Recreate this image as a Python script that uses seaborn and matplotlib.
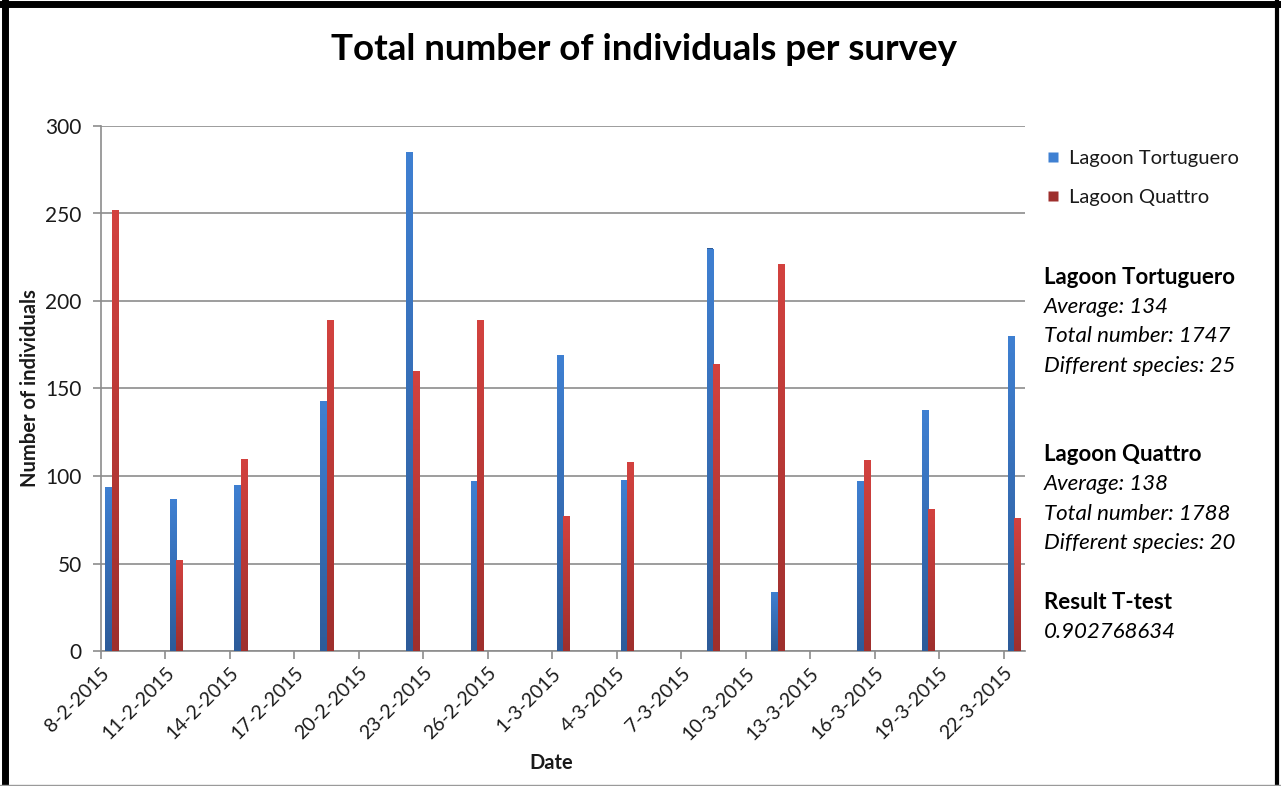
import numpy as np
import pandas as pd
import matplotlib
matplotlib.use("Agg")
import matplotlib.pyplot as plt
import seaborn as sns
from matplotlib.transforms import ScaledTranslation
from matplotlib.lines import Line2D
from matplotlib.colors import LinearSegmentedColormap

# ---- data -------------------------------------------------------------
survey_dates = ["2015-02-08", "2015-02-11", "2015-02-14", "2015-02-18",
                "2015-02-22", "2015-02-25", "2015-03-01", "2015-03-04",
                "2015-03-08", "2015-03-11", "2015-03-15", "2015-03-18",
                "2015-03-22"]
tortuguero = [94, 87, 95, 143, 285, 97, 169, 98, 230, 34, 97, 138, 180]
quattro = [252, 52, 110, 189, 160, 189, 77, 108, 164, 221, 109, 81, 76]
series_names = ["Lagoon Tortuguero", "Lagoon Quattro"]

tick_labels = ["8-2-2015", "11-2-2015", "14-2-2015", "17-2-2015",
               "20-2-2015", "23-2-2015", "26-2-2015", "1-3-2015",
               "4-3-2015", "7-3-2015", "10-3-2015", "13-3-2015",
               "16-3-2015", "19-3-2015", "22-3-2015"]
axis_start = "2015-02-08"
axis_end = "2015-03-23"
y_ticks = [0, 50, 100, 150, 200, 250, 300]

summary_lines = [
    ("Lagoon Tortuguero", "bold"),
    ("Average: 134", "italic"),
    ("Total number: 1747", "italic"),
    ("Different species: 25", "italic"),
    (None, None),
    (None, None),
    ("Lagoon Quattro", "bold"),
    ("Average: 138", "italic"),
    ("Total number: 1788", "italic"),
    ("Different species: 20", "italic"),
    (None, None),
    ("Result T-test", "bold"),
    ("0.902768634", "italic"),
]

# ---- styling ----------------------------------------------------------
sns.set_theme(style="white")
plt.rcParams["font.family"] = ["Lato", "DejaVu Sans"]

blue_dark, blue_light = "#2d5b99", "#3f80d2"
red_dark, red_light = "#9e2f2d", "#d3423f"
grid_col = "#8c8c8c"
text_col = "#1a1a1a"

start = pd.Timestamp(axis_start)
dates = pd.to_datetime(survey_dates)
day_pos = (dates - start).days.to_numpy() + 0.5  # centre of each day slot

df = pd.DataFrame({
    "pos": np.concatenate([day_pos, day_pos]),
    "count": tortuguero + quattro,
    "site": [series_names[0]] * len(tortuguero) + [series_names[1]] * len(quattro),
})

fig = plt.figure(figsize=(12.81, 7.86), dpi=100)
ax = fig.add_axes([101 / 1281, 1 - 651 / 786, (1025 - 101) / 1281, (651 - 126) / 786])

sns.barplot(data=df, x="pos", y="count", hue="site", hue_order=series_names,
            native_scale=True, width=0.2, gap=0, saturation=1,
            palette=[blue_dark, red_dark], legend=False, ax=ax, zorder=3)

# vertical gradient fill on each bar
n_days = (pd.Timestamp(axis_end) - start).days
grad = np.linspace(0, 1, 256).reshape(-1, 1)
cmaps = {blue_dark: LinearSegmentedColormap.from_list("b", [blue_dark, blue_light]),
         red_dark: LinearSegmentedColormap.from_list("r", [red_dark, red_light])}
for patch in list(ax.patches):
    x0, w = patch.get_x(), patch.get_width()
    h = patch.get_height()
    fc = matplotlib.colors.to_hex(patch.get_facecolor())
    cmap = cmaps.get(fc, cmaps[blue_dark])
    im = ax.imshow(grad, extent=[x0, x0 + w, 0, h], origin="lower",
                   cmap=cmap, aspect="auto", zorder=3.5, interpolation="bilinear")
    im.set_clip_path(patch)
    patch.set_edgecolor("none")

ax.set_xlim(0, n_days)
ax.set_ylim(0, 300)

# axes, grid and ticks
ax.set_yticks(y_ticks)
ax.set_yticklabels([str(v) for v in y_ticks])
ax.yaxis.grid(True, color=grid_col, linewidth=1.2, zorder=0)
ax.set_axisbelow(True)
for side in ["top", "right"]:
    ax.spines[side].set_visible(False)
for side in ["left", "bottom"]:
    ax.spines[side].set_color(grid_col)
    ax.spines[side].set_linewidth(1.2)

tick_pos = np.arange(0, n_days, 3)
ax.set_xticks(tick_pos)
ax.set_xticklabels(tick_labels, rotation=45, ha="right", va="top",
                   rotation_mode="anchor")
offset = ScaledTranslation(15 / 100, -4 / 100, fig.dpi_scale_trans)
for lbl in ax.get_xticklabels():
    lbl.set_transform(lbl.get_transform() + offset)

ax.tick_params(axis="both", which="major", direction="out", length=6,
               width=1.2, color=grid_col, labelcolor=text_col,
               bottom=True, left=True)
ax.tick_params(axis="x", labelsize=14)
ax.tick_params(axis="y", labelsize=15, pad=8)

ax.set_xlabel("Date", fontsize=14.5, fontweight="bold", color=text_col)
ax.set_ylabel("Number of individuals", fontsize=14.5, fontweight="bold", color=text_col)
ax.xaxis.set_label_coords((551 - 101) / (1025 - 101), -(753 - 651) / (651 - 126))
ax.yaxis.set_label_coords(-(101 - 40) / (1025 - 101), (651 - 388) / (651 - 126))

fig.text(644 / 1281, 1 - 50 / 786, "Total number of individuals per survey",
         ha="center", va="center", fontsize=26.5, fontweight="bold", color="black")

# legend
handles = [Line2D([], [], linestyle="none", marker="s", markersize=7.5,
                  markerfacecolor=c, markeredgecolor="none")
           for c in [blue_light, red_dark]]
fig.legend(handles, series_names, loc="upper left",
           bbox_to_anchor=(1046 / 1281, 1 - 150 / 786), frameon=False,
           fontsize=14.5, labelspacing=1.1, handlelength=0.7,
           handletextpad=0.45, borderaxespad=0, borderpad=0,
           labelcolor=text_col)

# summary statistics block
y0, step = 277, 29.6
for i, (txt, kind) in enumerate(summary_lines):
    if txt is None:
        continue
    fig.text(1044 / 1281, 1 - (y0 + i * step) / 786, txt, ha="left", va="center",
             fontsize=16, color="black",
             fontweight="bold" if kind == "bold" else "normal",
             fontstyle="italic" if kind == "italic" else "normal")

# outer frame
W, H = 1281, 786
fig.add_artist(Line2D([5 / W, 5 / W], [0, 1], color="black", linewidth=5,
                      transform=fig.transFigure))
fig.add_artist(Line2D([0, 1], [1 - 4 / H, 1 - 4 / H], color="black", linewidth=5,
                      transform=fig.transFigure))
fig.add_artist(Line2D([1 - 4 / W, 1 - 4 / W], [0, 1], color="black", linewidth=3,
                      transform=fig.transFigure))
fig.add_artist(Line2D([0, 1], [1.5 / H, 1.5 / H], color="#9a9a9a", linewidth=1,
                      transform=fig.transFigure))

fig.savefig("out.png", dpi=100)
